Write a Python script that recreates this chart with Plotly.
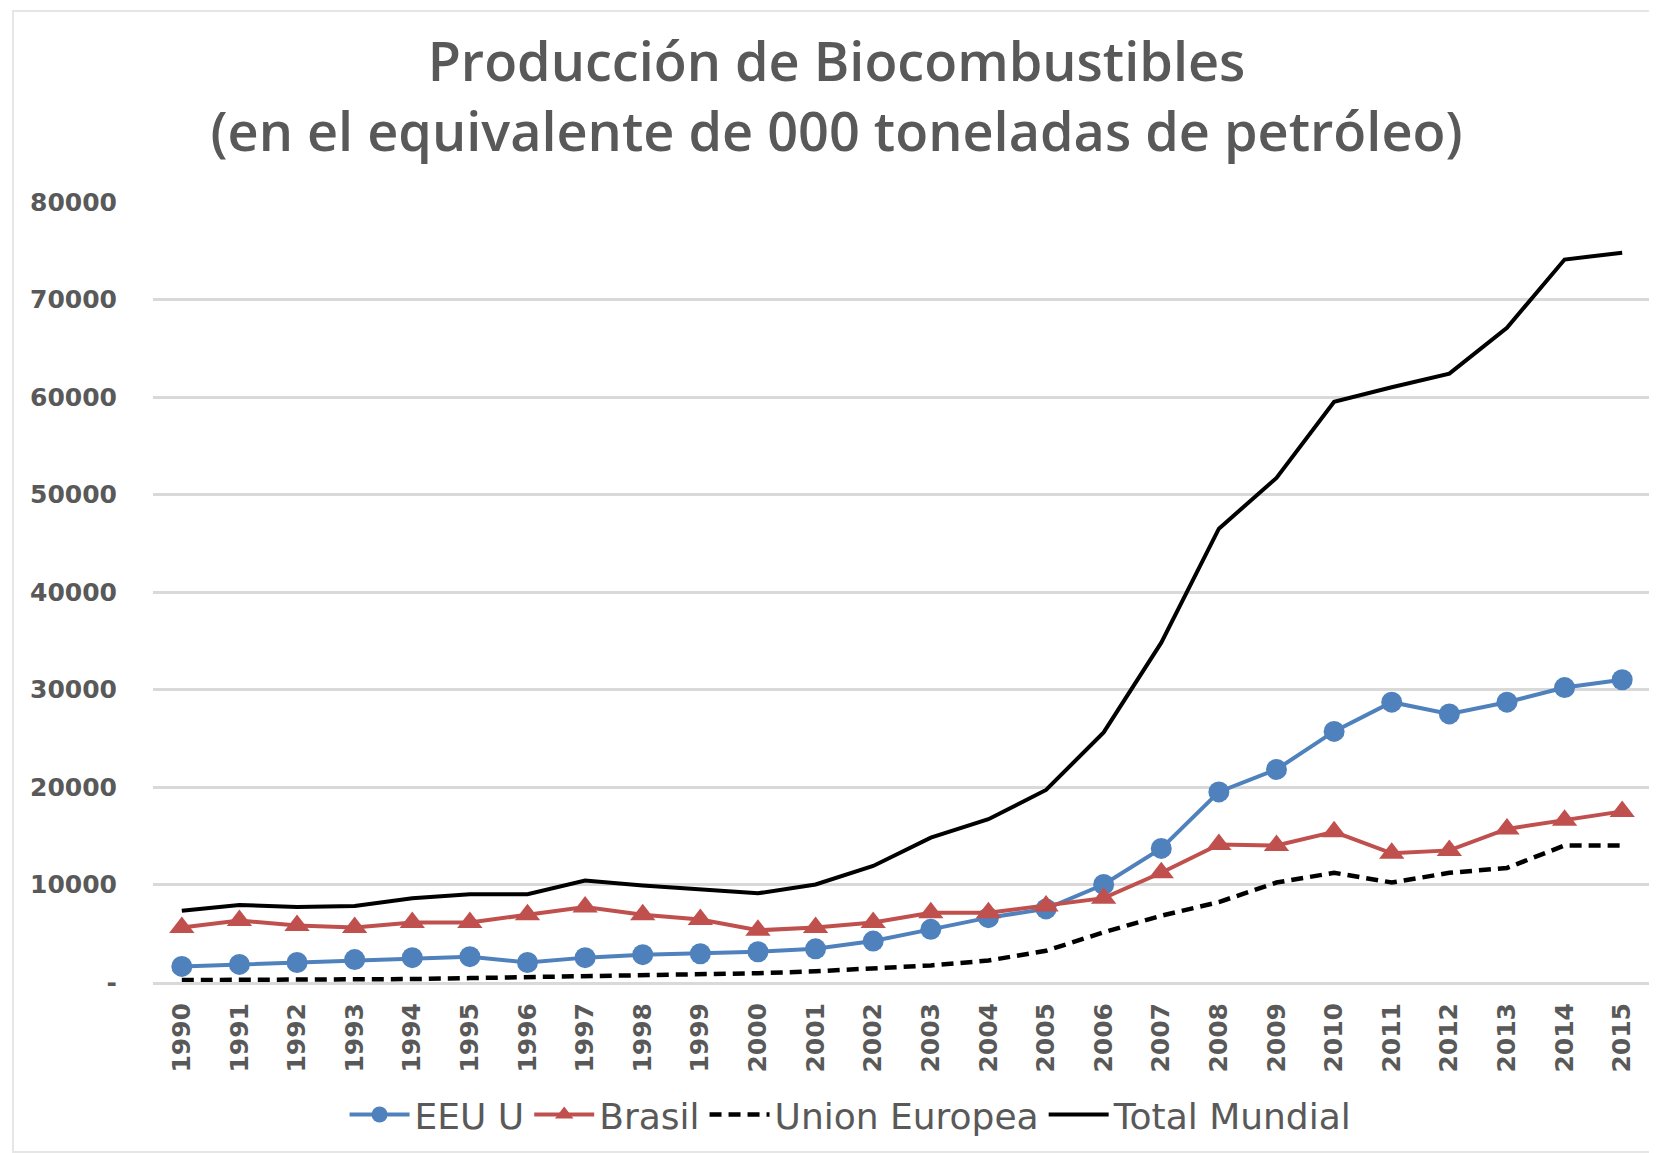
import plotly.graph_objects as go

######
# Data
######

years = [str(y) for y in range(1990, 2016)]

eeuu = [1600, 1800, 2000, 2300, 2500, 2600, 2000, 2500, 2800, 2900,
        3100, 3400, 4200, 5400, 6600, 7500, 10000, 13700, 19500, 21800,
        25700, 28700, 27500, 28700, 30200, 31000]

brasil = [5600, 6300, 5800, 5600, 6100, 6100, 6900, 7700, 6900, 6400,
          5300, 5600, 6100, 7100, 7100, 7800, 8600, 11200, 14100, 14000,
          15400, 13200, 13500, 15700, 16600, 17500]

union_europea = [200, 200, 300, 300, 300, 400, 500, 600, 600, 700,
                 900, 1100, 1400, 1700, 2200, 3200, 5100, 6800, 8200, 10200,
                 11200, 10200, 11200, 11700, 14000, 14000]

total_mundial = [7300, 7900, 7700, 7800, 8600, 9000, 9000, 10400, 9900, 9500,
                 9100, 10000, 11900, 14800, 16700, 19700, 25600, 34800, 46500, 51700,
                 59500, 61000, 62400, 67100, 74100, 74800]

y_ticks = [0, 10000, 20000, 30000, 40000, 50000, 60000, 70000, 80000]
y_labels = ['-', '10000', '20000', '30000', '40000', '50000', '60000', '70000', '80000']

title_text = 'Producción de Biocombustibles<br>(en el equivalente de 000 toneladas de petróleo)'

### colours
blue = '#4F81BD'
red = '#C0504D'
grey_text = '#595959'
grid = '#D9D9D9'

fig = go.Figure()

fig.add_trace(go.Scatter(x=years, y=eeuu, name='EEU U', mode='lines+markers',
                         line=dict(color=blue, width=4),
                         marker=dict(symbol='circle', size=21, color=blue)))
fig.add_trace(go.Scatter(x=years, y=brasil, name='Brasil', mode='lines+markers',
                         line=dict(color=red, width=4),
                         marker=dict(symbol='triangle-up', size=22, color=red)))
fig.add_trace(go.Scatter(x=years, y=union_europea, name='Union Europea', mode='lines',
                         line=dict(color='black', width=4.5, dash='12px,7px')))
fig.add_trace(go.Scatter(x=years, y=total_mundial, name='Total Mundial', mode='lines',
                         line=dict(color='black', width=4)))

# the page body has an 8px offset, margins below allow for it
fig.update_layout(
    width=1657, height=1153,
    margin=dict(l=145, r=14, t=194, b=179),
    paper_bgcolor='white', plot_bgcolor='white',
    font=dict(family='DejaVu Sans', color=grey_text),
    title=dict(text=title_text, x=0.5, xanchor='center', y=0.937, yanchor='top',
               font=dict(family='Open Sans', size=54, color=grey_text, weight=600)),
    legend=dict(orientation='h', x=0.466, xanchor='center', y=-0.17, yanchor='middle',
                font=dict(family='DejaVu Sans', size=36, color=grey_text),
                itemwidth=60, traceorder='normal'),
    showlegend=True,
)

fig.update_yaxes(range=[0, 80000], tickvals=y_ticks, ticktext=y_labels,
                 showgrid=True, gridcolor=grid, gridwidth=3, zeroline=False,
                 ticklabelstandoff=35,
                 tickfont=dict(family='DejaVu Sans', size=25, color=grey_text, weight='bold'))

fig.update_xaxes(type='category', range=[-0.5, 25.5], tickangle=-90, showgrid=False,
                 showline=True, linecolor=grid, linewidth=3, ticklabelstandoff=8,
                 tickfont=dict(family='DejaVu Sans', size=25, color=grey_text, weight='bold'))

### light border round the chart area
fig.add_shape(type='rect', xref='paper', yref='paper',
              x0=(5 - 145) / 1498, x1=(1648 - 145) / 1498,
              y0=(974 - 1144) / 780, y1=(974 - 3) / 780,
              line=dict(color='#E6E6E6', width=2))

fig.write_html('out.html')
